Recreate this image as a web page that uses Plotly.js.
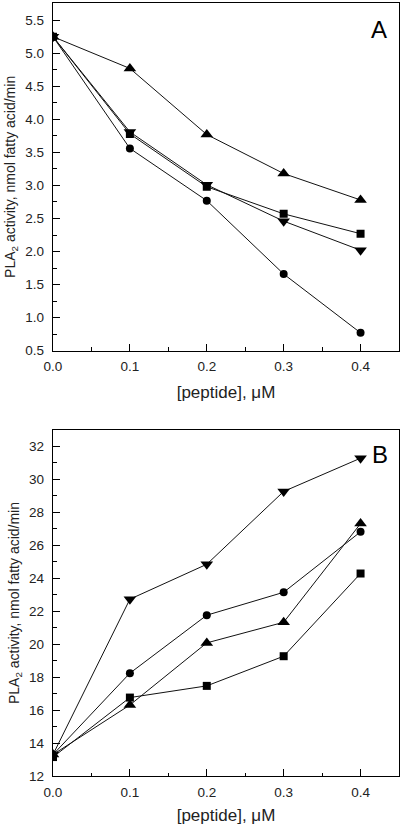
<!DOCTYPE html>
<html>
<head>
<meta charset="utf-8">
<script src="https://cdn.plot.ly/plotly-3.0.1.min.js"></script>
<style>html,body{margin:0;padding:0;background:#fff;}#chart{width:405px;height:825px;}</style>
</head>
<body>
<div id="chart"></div>
<script>
// ---- data ----
const peptideConc = [0, 0.1, 0.2, 0.3, 0.4];

// Panel A
const aTriUp   = [5.25, 4.77, 3.77, 3.18, 2.78];
const aSquare  = [5.25, 3.78, 2.98, 2.57, 2.27];
const aTriDown = [5.25, 3.81, 3.01, 2.46, 2.02];
const aCircle  = [5.25, 3.56, 2.77, 1.66, 0.77];

// Panel B
const bTriDown = [13.3, 22.73, 24.85, 29.27, 31.29];
const bCircle  = [13.3, 18.24, 21.76, 23.15, 26.82];
const bTriUp   = [13.3, 16.31, 20.08, 21.33, 27.32];
const bSquare  = [13.15, 16.76, 17.47, 19.27, 24.29];

const panelLabels = ["A", "B"];
const xTitle = "[peptide], μM";
const yTitle = "PLA<sub>2</sub> activity, nmol fatty acid/min";

// ---- styling ----
const FONT = '"Liberation Sans", Arial, Helvetica, sans-serif';
function series(y, symbol, size, xa, ya) {
  return {
    x: peptideConc, y: y, xaxis: xa, yaxis: ya,
    type: 'scatter', mode: 'lines+markers',
    line: {color: '#111', width: 1},
    marker: {symbol: symbol, size: size, color: '#000', line: {width: 0}},
    showlegend: false, hoverinfo: 'x+y'
  };
}

const data = [
  series(aTriUp, 'triangle-up', 11, 'x', 'y'),
  series(aSquare, 'square', 8, 'x', 'y'),
  series(aTriDown, 'triangle-down', 11, 'x', 'y'),
  series(aCircle, 'circle', 8, 'x', 'y'),
  series(bTriDown, 'triangle-down', 11, 'x2', 'y2'),
  series(bCircle, 'circle', 8, 'x2', 'y2'),
  series(bTriUp, 'triangle-up', 11, 'x2', 'y2'),
  series(bSquare, 'square', 8, 'x2', 'y2')
];

function xAxis(anchor) {
  return {
    anchor: anchor, domain: [0, 1], range: [0, 0.45],
    tick0: 0, dtick: 0.1, tickformat: '.1f',
    ticks: 'inside', ticklen: 7, tickwidth: 1, tickcolor: '#000',
    minor: {dtick: 0.05, ticks: 'inside', ticklen: 3.5, tickwidth: 1, tickcolor: '#000'},
    showline: true, mirror: true, linecolor: '#000', linewidth: 1.3,
    showgrid: false, zeroline: false, ticklabelstandoff: 3,
    tickfont: {family: FONT, size: 13.5, color: '#222'},
    title: {text: xTitle, font: {family: FONT, size: 17, color: '#222'}, standoff: 13}
  };
}
function yAxis(anchor, domain, range, tick0, dtick, minorDtick, fmt) {
  return {
    anchor: anchor, domain: domain, range: range,
    tick0: tick0, dtick: dtick, tickformat: fmt,
    ticks: 'inside', ticklen: 7, tickwidth: 1, tickcolor: '#000',
    minor: {dtick: minorDtick, ticks: 'inside', ticklen: 3.5, tickwidth: 1, tickcolor: '#000'},
    showline: true, mirror: true, linecolor: '#000', linewidth: 1.3,
    showgrid: false, zeroline: false, ticklabelstandoff: 5,
    tickfont: {family: FONT, size: 13.5, color: '#222'},
    title: {text: yTitle, font: {family: FONT, size: 14, color: '#222'}, standoff: 6}
  };
}

const layout = {
  width: 405, height: 825,
  margin: {l: 53, r: 6, t: 3, b: 49},
  paper_bgcolor: '#fff', plot_bgcolor: '#fff',
  font: {family: FONT, color: '#222'},
  xaxis: xAxis('y'),
  yaxis: yAxis('x', [0.5502, 1], [0.5, 5.76], 0.5, 0.5, 0.25, '.1f'),
  xaxis2: xAxis('y2'),
  yaxis2: yAxis('x2', [0, 0.4476], [12, 33], 12, 2, 1, 'd'),
  annotations: [
    {text: panelLabels[0], xref: 'x domain', yref: 'y domain', x: 0.942, y: 0.923,
     xanchor: 'center', yanchor: 'middle',
     showarrow: false, font: {family: FONT, size: 24, color: '#000'}},
    {text: panelLabels[1], xref: 'x2 domain', yref: 'y2 domain', x: 0.945, y: 0.928,
     xanchor: 'center', yanchor: 'middle',
     showarrow: false, font: {family: FONT, size: 24, color: '#000'}}
  ]
};

Plotly.newPlot('chart', data, layout, {displayModeBar: false, staticPlot: true});
</script>
</body>
</html>
